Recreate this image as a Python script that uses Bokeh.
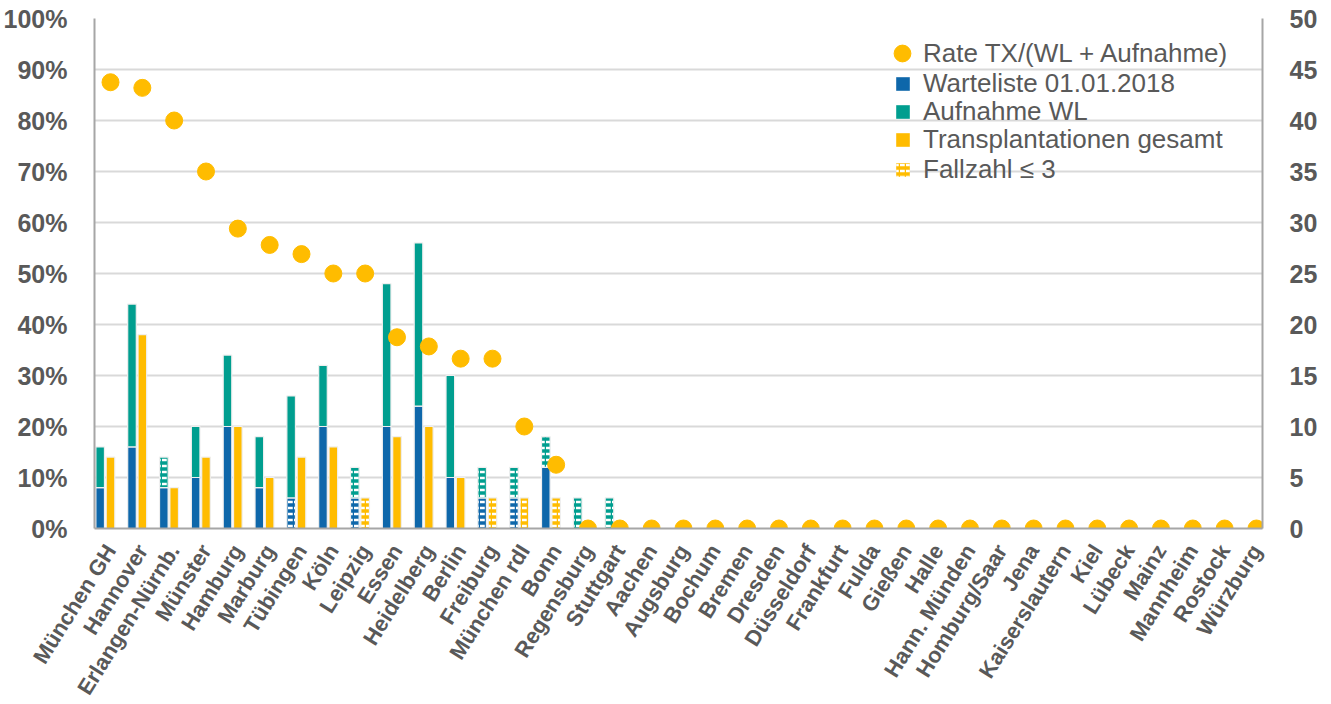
from bokeh.plotting import figure
from bokeh.models import (Range1d, LinearAxis, FixedTicker, PrintfTickFormatter,
                          Legend, LegendItem, ColumnDataSource)
from bokeh.embed import file_html
from bokeh.resources import INLINE

cities = ["München GH", "Hannover", "Erlangen-Nürnb.", "Münster", "Hamburg", "Marburg",
          "Tübingen", "Köln", "Leipzig", "Essen", "Heidelberg", "Berlin", "Freiburg",
          "München rdI", "Bonn", "Regensburg", "Stuttgart", "Aachen", "Augsburg", "Bochum",
          "Bremen", "Dresden", "Düsseldorf", "Frankfurt", "Fulda", "Gießen", "Halle",
          "Hann. Münden", "Homburg/Saar", "Jena", "Kaiserslautern", "Kiel", "Lübeck",
          "Mainz", "Mannheim", "Rostock", "Würzburg"]
n_zero = len(cities) - 17
warteliste = [4, 8, 4, 5, 10, 4, 3, 10, 3, 10, 12, 5, 3, 3, 6, 0, 0] + [0] * n_zero
aufnahme = [4, 14, 3, 5, 7, 5, 10, 6, 3, 14, 16, 10, 3, 3, 3, 3, 3] + [0] * n_zero
transplantationen = [7, 19, 4, 7, 10, 5, 7, 8, 3, 9, 10, 5, 3, 3, 3, 0, 0] + [0] * n_zero
rate_pct = [87.5, 86.4, 80.0, 70.0, 58.8, 55.6, 53.8, 50.0, 50.0, 37.5, 35.7, 33.3,
            33.3, 20.0, 12.5, 0, 0] + [0] * n_zero
low_limit = 3

BLUE = "#0E67AA"
TEAL = "#009E8F"
YELLOW = "#FFBC00"
TEXT = "#595959"
AXIS = "#A6A6A6"
GRID = "#D9D9D9"
FONT = "Liberation Sans"
PATTERN = "horizontal_dash"

idx = list(range(len(cities)))


def pat(v):
    return PATTERN if 0 < v <= low_limit else " "


wl_src = ColumnDataSource(dict(
    x=[i - 0.325 for i in idx], bottom=[0] * len(idx), top=warteliste,
    hp=[pat(v) for v in warteliste]))
auf_src = ColumnDataSource(dict(
    x=[i - 0.325 for i in idx], bottom=warteliste,
    top=[w + a for w, a in zip(warteliste, aufnahme)],
    hp=[pat(v) for v in aufnahme]))
tx_src = ColumnDataSource(dict(
    x=idx, bottom=[0] * len(idx), top=transplantationen,
    hp=[pat(v) for v in transplantationen]))
rate_src = ColumnDataSource(dict(x=idx, y=rate_pct))

p = figure(frame_width=1168, frame_height=510,
           x_range=Range1d(-0.503, 36.19), y_range=Range1d(0, 100),
           output_backend="svg", toolbar_location=None,
           min_border_left=91, min_border_right=56, min_border_top=18, min_border_bottom=160)
p.extra_y_ranges = {"count": Range1d(0, 50)}
p.outline_line_color = None
p.background_fill_color = "white"
p.border_fill_color = "white"

# left axis
p.yaxis.ticker = FixedTicker(ticks=list(range(0, 101, 10)))
p.yaxis.formatter = PrintfTickFormatter(format="%d%%")
p.yaxis.major_label_text_font = FONT
p.yaxis.major_label_text_font_style = "bold"
p.yaxis.major_label_text_font_size = "25px"
p.yaxis.major_label_text_color = TEXT
p.yaxis.major_tick_line_color = None
p.yaxis.minor_tick_line_color = None
p.yaxis.axis_line_color = AXIS
p.yaxis.axis_line_width = 2
p.yaxis.major_label_standoff = 21

# right axis
ax_r = LinearAxis(y_range_name="count", ticker=FixedTicker(ticks=list(range(0, 51, 5))))
ax_r.major_label_text_font = FONT
ax_r.major_label_text_font_style = "bold"
ax_r.major_label_text_font_size = "25px"
ax_r.major_label_text_color = TEXT
ax_r.major_tick_line_color = None
ax_r.minor_tick_line_color = None
ax_r.axis_line_color = AXIS
ax_r.axis_line_width = 2
ax_r.major_label_standoff = 21
p.add_layout(ax_r, "right")

# x axis
p.xaxis.ticker = FixedTicker(ticks=idx)
p.xaxis.major_label_overrides = {i: c for i, c in zip(idx, cities)}
p.xaxis.major_label_orientation = 1.012
p.xaxis.major_label_text_font = FONT
p.xaxis.major_label_text_font_style = "bold"
p.xaxis.major_label_text_font_size = "22px"
p.xaxis.major_label_text_color = TEXT
p.xaxis.major_tick_line_color = None
p.xaxis.minor_tick_line_color = None
p.xaxis.axis_line_color = AXIS
p.xaxis.axis_line_width = 2
p.xaxis.major_label_standoff = 12

p.xgrid.grid_line_color = None
p.ygrid.grid_line_color = GRID
p.ygrid.grid_line_width = 2

HATCH = dict(hatch_color="white", hatch_scale=6, hatch_weight=2.5)
bar_kw = dict(width=0.27, line_color="#EFEFEF", line_width=1.2, y_range_name="count",
              hatch_pattern="hp", **HATCH)
p.vbar(x="x", bottom="bottom", top="top", source=wl_src, fill_color=BLUE, **bar_kw)
p.vbar(x="x", bottom="bottom", top="top", source=auf_src, fill_color=TEAL, **bar_kw)
p.vbar(x="x", bottom="bottom", top="top", source=tx_src, fill_color=YELLOW, **bar_kw)
p.scatter(x="x", y="y", source=rate_src, size=17, fill_color=YELLOW, line_color=YELLOW)

# legend proxies (one point each, outside the visible x range)
off = [-100]
r_rate = p.scatter(x=off, y=[0], size=17, fill_color=YELLOW, line_color=YELLOW)
r_wl = p.vbar(x=off, top=[0], width=0.3, fill_color=BLUE, line_color=None)
r_auf = p.vbar(x=off, top=[0], width=0.3, fill_color=TEAL, line_color=None)
r_tx = p.vbar(x=off, top=[0], width=0.3, fill_color=YELLOW, line_color=None)
r_pat = p.vbar(x=off, top=[0], width=0.3, fill_color=YELLOW, line_color=None,
               hatch_pattern=PATTERN, **HATCH)


def make_legend(label, renderer, loc, glyph, standoff):
    lg = Legend(items=[LegendItem(label=label, renderers=[renderer])], location=loc)
    lg.label_text_font = FONT
    lg.label_text_font_size = "26px"
    lg.label_text_color = TEXT
    lg.padding = 0
    lg.margin = 0
    lg.spacing = 0
    lg.border_line_color = None
    lg.background_fill_alpha = 0
    lg.glyph_width = glyph
    lg.glyph_height = glyph
    lg.label_standoff = standoff
    p.add_layout(lg, "center")


make_legend("Rate TX/(WL + Aufnahme)", r_rate, (787, 454), 42, 0)
make_legend("Warteliste 01.01.2018", r_wl, (800, 429), 17, 12)
make_legend("Aufnahme WL", r_auf, (800, 401), 17, 12)
make_legend("Transplantationen gesamt", r_tx, (800, 373), 17, 12)
make_legend("Fallzahl ≤ 3", r_pat, (800, 343), 17, 12)

open("out.html", "w").write(file_html(p, INLINE))
